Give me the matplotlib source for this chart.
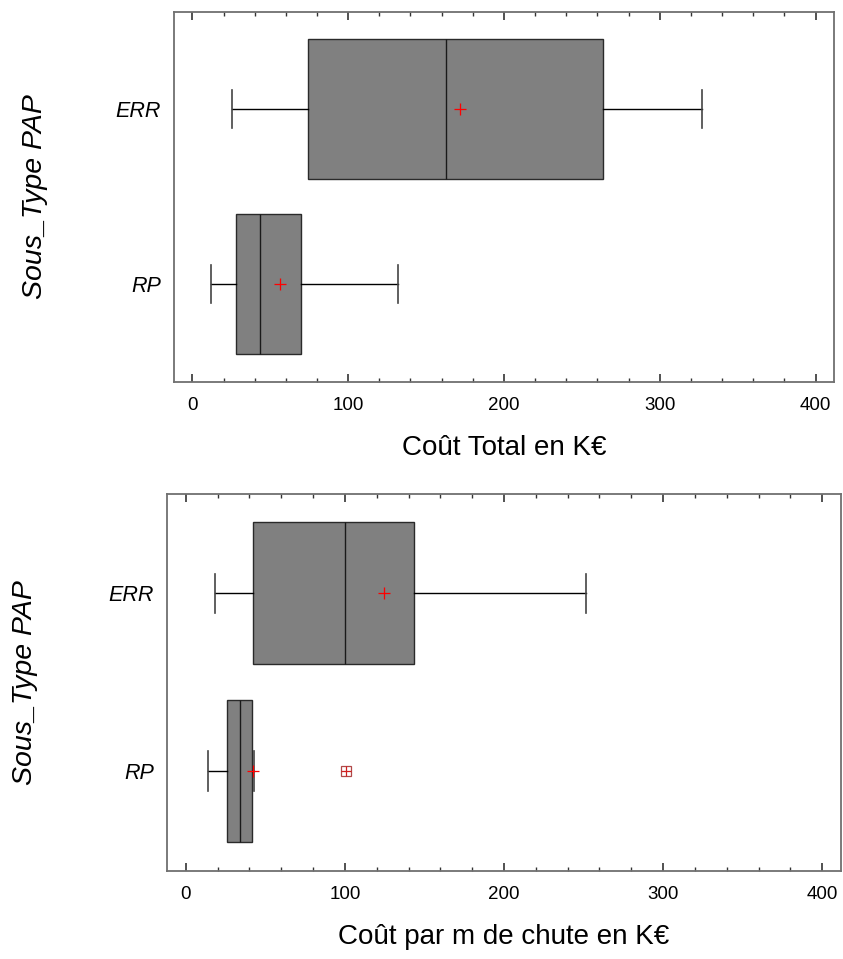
import numpy as np
import matplotlib as mpl
mpl.use('Agg')
import matplotlib.pyplot as plt
from matplotlib.ticker import MultipleLocator

plt.rcParams['font.family'] = ['Liberation Sans', 'DejaVu Sans']

# data (K€)
groups = ['RP', 'ERR']
# top chart: Coût Total
tot_q1 = [28.2, 74.1]
tot_med = [43.3, 162.7]
tot_q3 = [69.6, 263.3]
tot_lo = [12.0, 25.2]
tot_hi = [131.7, 327.3]
tot_mean = [56.5, 171.9]
tot_out = [[], []]
# bottom chart: Coût par m de chute
chu_q1 = [26.2, 42.0]
chu_med = [34.3, 100.0]
chu_q3 = [41.4, 143.4]
chu_lo = [13.8, 18.2]
chu_hi = [43.1, 251.7]
chu_mean = [42.3, 124.9]
chu_out = [[100.8], []]

def make_stats(q1, med, q3, lo, hi, mean, out):
    stats = []
    for i in range(len(groups)):
        stats.append({'label': groups[i], 'q1': q1[i], 'med': med[i], 'q3': q3[i],
                      'whislo': lo[i], 'whishi': hi[i], 'mean': mean[i],
                      'fliers': np.array(out[i])})
    return stats

fig = plt.figure(figsize=(8.43, 9.59), dpi=100)
ax1 = fig.add_axes([0.206, 0.6017, 0.7836, 0.3858])
ax2 = fig.add_axes([0.1977, 0.0918, 0.8003, 0.3931])

panels = [(ax1, make_stats(tot_q1, tot_med, tot_q3, tot_lo, tot_hi, tot_mean, tot_out), 'Coût Total en K€'),
          (ax2, make_stats(chu_q1, chu_med, chu_q3, chu_lo, chu_hi, chu_mean, chu_out), 'Coût par m de chute en K€')]

for ax, stats, xlab in panels:
    ax.bxp(stats, positions=[0, 1], widths=0.8, orientation='horizontal',
           patch_artist=True, showmeans=True, showfliers=True, capwidths=0.22,
           boxprops=dict(facecolor='#808080', edgecolor='#2a2a2a', linewidth=1),
           medianprops=dict(color='#1a1a1a', linewidth=1),
           whiskerprops=dict(color='black', linewidth=1),
           capprops=dict(color='#444444', linewidth=1.2),
           meanprops=dict(marker='+', markeredgecolor='red', markersize=9, markeredgewidth=0.9),
           flierprops=dict(marker='s', markerfacecolor='none', markeredgecolor='#b04848',
                           markersize=7, markeredgewidth=0.9))
    # plus inside the outlier square
    for i, s in enumerate(stats):
        if len(s['fliers']):
            ax.plot(s['fliers'], [i] * len(s['fliers']), '+', color='#d02020', ms=7, mew=0.9)
    ax.set_xlim(-12, 412)
    ax.set_ylim(-0.562, 1.557)
    ax.xaxis.set_major_locator(MultipleLocator(100))
    ax.xaxis.set_minor_locator(MultipleLocator(20))
    ax.tick_params(axis='x', which='both', direction='in', top=True, bottom=True,
                   color='#333333', labelsize=13.5, pad=11)
    ax.tick_params(axis='x', which='major', length=6, width=1.2)
    ax.tick_params(axis='x', which='minor', length=3, width=1)
    ax.tick_params(axis='y', length=0, labelsize=15.5, pad=9)
    for lab in ax.get_yticklabels():
        lab.set_fontstyle('italic')
    for sp in ax.spines.values():
        sp.set_color('#707070')
        sp.set_linewidth(1.3)
    ax.set_xlabel(xlab, fontsize=20, labelpad=15)

ax1.set_ylabel('Sous_Type PAP', fontsize=20.5, fontstyle='italic')
ax2.set_ylabel('Sous_Type PAP', fontsize=20.5, fontstyle='italic')
ax1.yaxis.set_label_coords(-0.19, 0.5)
ax2.yaxis.set_label_coords(-0.19, 0.5)

fig.savefig('out.png', dpi=100)
